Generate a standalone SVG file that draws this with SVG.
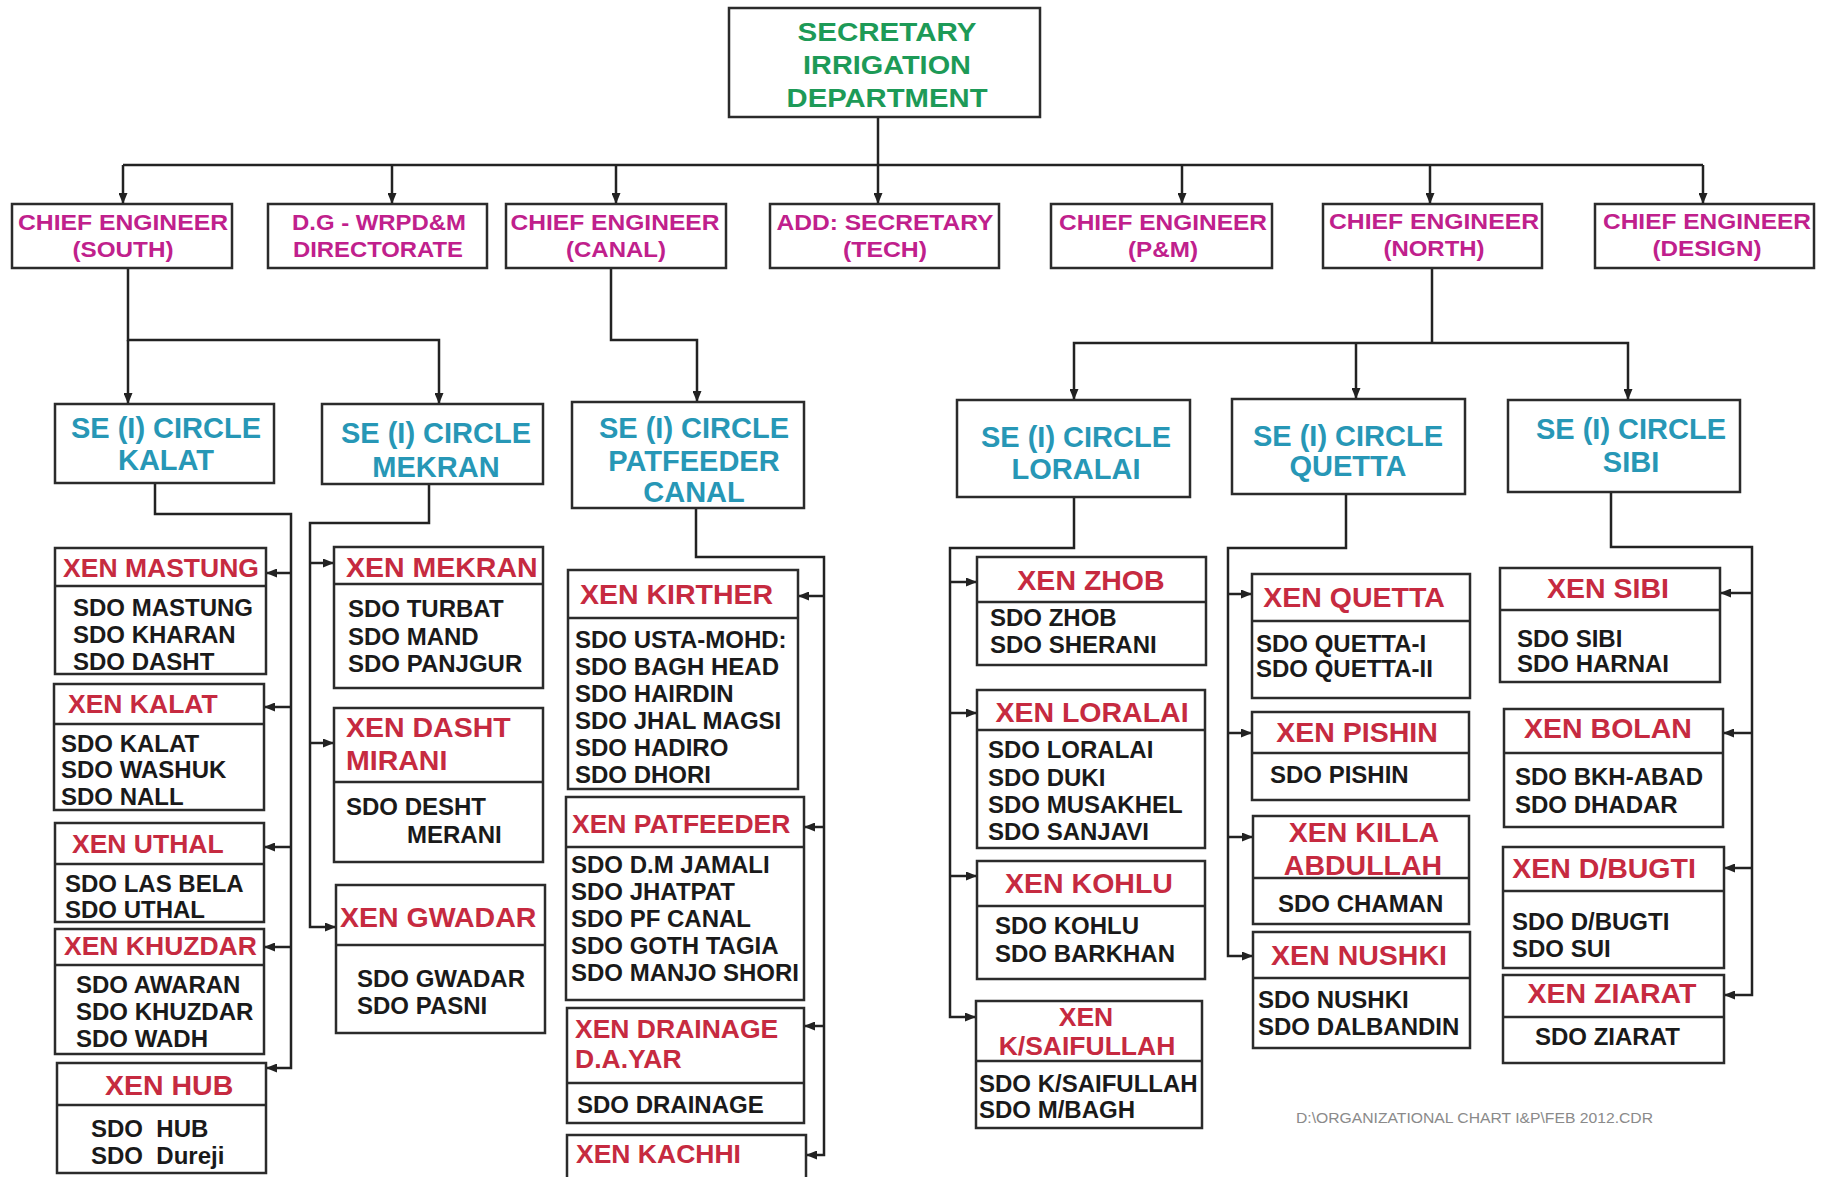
<svg xmlns="http://www.w3.org/2000/svg" width="1828" height="1177" viewBox="0 0 1828 1177">
<style>
.bx{fill:#fff;stroke:#2b2b2b;stroke-width:2.5}
.dv{stroke:#2b2b2b;stroke-width:2.5}
.c{fill:none;stroke:#222;stroke-width:2.5}
.ca{fill:none;stroke:#222;stroke-width:2.5;marker-end:url(#ar)}
text{font-family:"Liberation Sans",Arial,sans-serif;font-weight:bold}
.sec{font-size:26px;fill:#1d9a57;text-anchor:middle}
.ce{font-size:22px;fill:#c0208c;text-anchor:middle}
.se{font-size:29px;fill:#2797b6;text-anchor:middle}
.xh{font-size:28.5px;fill:#c62a40}
.xs{font-size:26.5px;fill:#c62a40}
.m{text-anchor:middle}
.sdo{font-size:24px;fill:#1a1a1a}
.ft{font-size:14px;font-weight:normal;fill:#8a8a8a}
</style>
<defs>
<marker id="ar" markerUnits="userSpaceOnUse" markerWidth="11" markerHeight="9" refX="11" refY="4.5" orient="auto">
<path d="M0,0 L11,4.5 L0,9 z" fill="#222"/>
</marker>
</defs>
<rect width="1828" height="1177" fill="#fff"/>

<g id="connectors">
<path class="ca" d="M878,117 V204"/>
<path class="c" d="M123,165 H1703"/>
<path class="ca" d="M123,165 V204"/>
<path class="ca" d="M392,165 V204"/>
<path class="ca" d="M616,165 V204"/>
<path class="ca" d="M1182,165 V204"/>
<path class="ca" d="M1430,165 V204"/>
<path class="ca" d="M1703,165 V204"/>
<path class="ca" d="M128,268 V340 H439 V404"/>
<path class="ca" d="M128,340 V404"/>
<path class="ca" d="M611,268 V340 H697 V402"/>
<path class="c" d="M1432,268 V343"/>
<path class="ca" d="M1432,343 H1074 V400"/>
<path class="ca" d="M1432,343 H1628 V400"/>
<path class="ca" d="M1356,343 V399"/>
<path class="ca" d="M155,483 V514 H291 V1068 H266"/>
<path class="ca" d="M291,573 H266"/>
<path class="ca" d="M291,707 H264"/>
<path class="ca" d="M291,847 H264"/>
<path class="ca" d="M291,947 H264"/>
<path class="ca" d="M429,484 V523 H310 V927 H336"/>
<path class="ca" d="M310,563 H334"/>
<path class="ca" d="M310,743 H334"/>
<path class="ca" d="M696,508 V557 H824 V1155 H806"/>
<path class="ca" d="M824,596 H798"/>
<path class="ca" d="M824,827 H804"/>
<path class="ca" d="M824,1026 H804"/>
<path class="ca" d="M1074,497 V548 H950 V1017 H976"/>
<path class="ca" d="M950,582 H977"/>
<path class="ca" d="M950,713 H977"/>
<path class="ca" d="M950,876 H977"/>
<path class="ca" d="M1346,494 V548 H1228 V956 H1253"/>
<path class="ca" d="M1228,594 H1252"/>
<path class="ca" d="M1228,733 H1252"/>
<path class="ca" d="M1228,837 H1253"/>
<path class="ca" d="M1611,492 V547 H1752 V995 H1724"/>
<path class="ca" d="M1752,593 H1720"/>
<path class="ca" d="M1752,733 H1723"/>
<path class="ca" d="M1752,868 H1724"/>
</g>

<g id="secretary">
<rect class="bx" x="729" y="8" width="311" height="109"/>
<text class="sec" x="887" y="41" textLength="179" lengthAdjust="spacingAndGlyphs">SECRETARY</text>
<text class="sec" x="887" y="74" textLength="168" lengthAdjust="spacingAndGlyphs">IRRIGATION</text>
<text class="sec" x="887" y="107" textLength="201" lengthAdjust="spacingAndGlyphs">DEPARTMENT</text>
</g>

<g id="ce-south">
<rect class="bx" x="12" y="204" width="220" height="64"/>
<text class="ce" x="123" y="230" textLength="210" lengthAdjust="spacingAndGlyphs">CHIEF ENGINEER</text>
<text class="ce" x="123" y="257" textLength="101" lengthAdjust="spacingAndGlyphs">(SOUTH)</text>
</g>
<g id="dg-wrpdm">
<rect class="bx" x="268" y="204" width="219" height="64"/>
<text class="ce" x="379" y="230" textLength="174" lengthAdjust="spacingAndGlyphs">D.G - WRPD&amp;M</text>
<text class="ce" x="378" y="257" textLength="170" lengthAdjust="spacingAndGlyphs">DIRECTORATE</text>
</g>
<g id="ce-canal">
<rect class="bx" x="506" y="204" width="220" height="64"/>
<text class="ce" x="615" y="230" textLength="209" lengthAdjust="spacingAndGlyphs">CHIEF ENGINEER</text>
<text class="ce" x="616" y="257" textLength="100" lengthAdjust="spacingAndGlyphs">(CANAL)</text>
</g>
<g id="add-secretary">
<rect class="bx" x="770" y="204" width="229" height="64"/>
<text class="ce" x="885" y="230" textLength="217" lengthAdjust="spacingAndGlyphs">ADD: SECRETARY</text>
<text class="ce" x="885" y="257" textLength="84" lengthAdjust="spacingAndGlyphs">(TECH)</text>
</g>
<g id="ce-pm">
<rect class="bx" x="1051" y="204" width="221" height="64"/>
<text class="ce" x="1163" y="230" textLength="208" lengthAdjust="spacingAndGlyphs">CHIEF ENGINEER</text>
<text class="ce" x="1163" y="257" textLength="70" lengthAdjust="spacingAndGlyphs">(P&amp;M)</text>
</g>
<g id="ce-north">
<rect class="bx" x="1323" y="204" width="219" height="64"/>
<text class="ce" x="1434" y="229" textLength="210" lengthAdjust="spacingAndGlyphs">CHIEF ENGINEER</text>
<text class="ce" x="1434" y="256" textLength="101" lengthAdjust="spacingAndGlyphs">(NORTH)</text>
</g>
<g id="ce-design">
<rect class="bx" x="1595" y="204" width="219" height="64"/>
<text class="ce" x="1707" y="229" textLength="208" lengthAdjust="spacingAndGlyphs">CHIEF ENGINEER</text>
<text class="ce" x="1707" y="256" textLength="109" lengthAdjust="spacingAndGlyphs">(DESIGN)</text>
</g>

<g id="se-kalat">
<rect class="bx" x="55" y="404" width="219" height="79"/>
<text class="se" x="166" y="438">SE (I) CIRCLE</text>
<text class="se" x="166" y="470">KALAT</text>
</g>
<g id="se-mekran">
<rect class="bx" x="322" y="404" width="221" height="80"/>
<text class="se" x="436" y="443">SE (I) CIRCLE</text>
<text class="se" x="436" y="477">MEKRAN</text>
</g>
<g id="se-patfeeder">
<rect class="bx" x="572" y="402" width="232" height="106"/>
<text class="se" x="694" y="438">SE (I) CIRCLE</text>
<text class="se" x="694" y="471">PATFEEDER</text>
<text class="se" x="694" y="502">CANAL</text>
</g>
<g id="se-loralai">
<rect class="bx" x="957" y="400" width="233" height="97"/>
<text class="se" x="1076" y="447">SE (I) CIRCLE</text>
<text class="se" x="1076" y="479">LORALAI</text>
</g>
<g id="se-quetta">
<rect class="bx" x="1232" y="399" width="233" height="95"/>
<text class="se" x="1348" y="446">SE (I) CIRCLE</text>
<text class="se" x="1348" y="476">QUETTA</text>
</g>
<g id="se-sibi">
<rect class="bx" x="1508" y="400" width="232" height="92"/>
<text class="se" x="1631" y="439">SE (I) CIRCLE</text>
<text class="se" x="1631" y="472">SIBI</text>
</g>

<g id="xen-mastung">
<rect class="bx" x="55" y="548" width="211" height="126"/>
<line class="dv" x1="55" y1="586" x2="266" y2="586"/>
<text class="xs m" x="161" y="577">XEN MASTUNG</text>
<text class="sdo" x="73" y="616">SDO MASTUNG</text>
<text class="sdo" x="73" y="643">SDO KHARAN</text>
<text class="sdo" x="73" y="670">SDO DASHT</text>
</g>
<g id="xen-kalat">
<rect class="bx" x="54" y="684" width="210" height="126"/>
<line class="dv" x1="54" y1="724" x2="264" y2="724"/>
<text class="xs" x="68" y="713">XEN KALAT</text>
<text class="sdo" x="61" y="752">SDO KALAT</text>
<text class="sdo" x="61" y="778">SDO WASHUK</text>
<text class="sdo" x="61" y="805">SDO NALL</text>
</g>
<g id="xen-uthal">
<rect class="bx" x="55" y="823" width="209" height="99"/>
<line class="dv" x1="55" y1="864" x2="264" y2="864"/>
<text class="xs" x="72" y="853">XEN UTHAL</text>
<text class="sdo" x="65" y="892">SDO LAS BELA</text>
<text class="sdo" x="65" y="918">SDO UTHAL</text>
</g>
<g id="xen-khuzdar">
<rect class="bx" x="55" y="929" width="209" height="125"/>
<line class="dv" x1="55" y1="965" x2="264" y2="965"/>
<text class="xs" x="64" y="955">XEN KHUZDAR</text>
<text class="sdo" x="76" y="993">SDO AWARAN</text>
<text class="sdo" x="76" y="1020">SDO KHUZDAR</text>
<text class="sdo" x="76" y="1047">SDO WADH</text>
</g>
<g id="xen-hub">
<rect class="bx" x="57" y="1063" width="209" height="110"/>
<line class="dv" x1="57" y1="1105" x2="266" y2="1105"/>
<text class="xh" x="105" y="1095">XEN HUB</text>
<text class="sdo" x="91" y="1137">SDO&#160; HUB</text>
<text class="sdo" x="91" y="1164">SDO&#160; Dureji</text>
</g>

<g id="xen-mekran">
<rect class="bx" x="334" y="547" width="209" height="141"/>
<line class="dv" x1="334" y1="584" x2="543" y2="584"/>
<text class="xh" x="346" y="577">XEN MEKRAN</text>
<text class="sdo" x="348" y="617">SDO TURBAT</text>
<text class="sdo" x="348" y="645">SDO MAND</text>
<text class="sdo" x="348" y="672">SDO PANJGUR</text>
</g>
<g id="xen-dasht-mirani">
<rect class="bx" x="334" y="708" width="209" height="154"/>
<line class="dv" x1="334" y1="782" x2="543" y2="782"/>
<text class="xh" x="346" y="737">XEN DASHT</text>
<text class="xh" x="346" y="770">MIRANI</text>
<text class="sdo" x="346" y="815">SDO DESHT</text>
<text class="sdo" x="407" y="843">MERANI</text>
</g>
<g id="xen-gwadar">
<rect class="bx" x="336" y="885" width="209" height="148"/>
<line class="dv" x1="336" y1="945" x2="545" y2="945"/>
<text class="xh" x="340" y="927">XEN GWADAR</text>
<text class="sdo" x="357" y="987">SDO GWADAR</text>
<text class="sdo" x="357" y="1014">SDO PASNI</text>
</g>

<g id="xen-kirther">
<rect class="bx" x="568" y="570" width="230" height="219"/>
<line class="dv" x1="568" y1="618" x2="798" y2="618"/>
<text class="xh" x="580" y="604">XEN KIRTHER</text>
<text class="sdo" x="575" y="648">SDO USTA-MOHD:</text>
<text class="sdo" x="575" y="675">SDO BAGH HEAD</text>
<text class="sdo" x="575" y="702">SDO HAIRDIN</text>
<text class="sdo" x="575" y="729">SDO JHAL MAGSI</text>
<text class="sdo" x="575" y="756">SDO HADIRO</text>
<text class="sdo" x="575" y="783">SDO DHORI</text>
</g>
<g id="xen-patfeeder">
<rect class="bx" x="566" y="797" width="238" height="203"/>
<line class="dv" x1="566" y1="847" x2="804" y2="847"/>
<text class="xs" x="572" y="833">XEN PATFEEDER</text>
<text class="sdo" x="571" y="873">SDO D.M JAMALI</text>
<text class="sdo" x="571" y="900">SDO JHATPAT</text>
<text class="sdo" x="571" y="927">SDO PF CANAL</text>
<text class="sdo" x="571" y="954">SDO GOTH TAGIA</text>
<text class="sdo" x="571" y="981">SDO MANJO SHORI</text>
</g>
<g id="xen-drainage">
<rect class="bx" x="567" y="1008" width="237" height="115"/>
<line class="dv" x1="567" y1="1083" x2="804" y2="1083"/>
<text class="xs" x="575" y="1038">XEN DRAINAGE</text>
<text class="xs" x="575" y="1068">D.A.YAR</text>
<text class="sdo" x="577" y="1113">SDO DRAINAGE</text>
</g>
<g id="xen-kachhi">
<rect class="bx" x="567" y="1135" width="239" height="60"/>
<text class="xs" x="576" y="1163">XEN KACHHI</text>
</g>

<g id="xen-zhob">
<rect class="bx" x="977" y="557" width="229" height="108"/>
<line class="dv" x1="977" y1="602" x2="1206" y2="602"/>
<text class="xh m" x="1091" y="590">XEN ZHOB</text>
<text class="sdo" x="990" y="626">SDO ZHOB</text>
<text class="sdo" x="990" y="653">SDO SHERANI</text>
</g>
<g id="xen-loralai">
<rect class="bx" x="977" y="690" width="228" height="158"/>
<line class="dv" x1="977" y1="730" x2="1205" y2="730"/>
<text class="xh m" x="1092" y="722">XEN LORALAI</text>
<text class="sdo" x="988" y="758">SDO LORALAI</text>
<text class="sdo" x="988" y="786">SDO DUKI</text>
<text class="sdo" x="988" y="813">SDO MUSAKHEL</text>
<text class="sdo" x="988" y="840">SDO SANJAVI</text>
</g>
<g id="xen-kohlu">
<rect class="bx" x="977" y="861" width="228" height="118"/>
<line class="dv" x1="977" y1="906" x2="1205" y2="906"/>
<text class="xh m" x="1089" y="893">XEN KOHLU</text>
<text class="sdo" x="995" y="934">SDO KOHLU</text>
<text class="sdo" x="995" y="962">SDO BARKHAN</text>
</g>
<g id="xen-ksaifullah">
<rect class="bx" x="976" y="1001" width="226" height="127"/>
<line class="dv" x1="976" y1="1061" x2="1202" y2="1061"/>
<text class="xs m" x="1086" y="1026">XEN</text>
<text class="xs m" x="1087" y="1055">K/SAIFULLAH</text>
<text class="sdo" x="979" y="1092">SDO K/SAIFULLAH</text>
<text class="sdo" x="979" y="1118">SDO M/BAGH</text>
</g>

<g id="xen-quetta">
<rect class="bx" x="1252" y="574" width="218" height="124"/>
<line class="dv" x1="1252" y1="621" x2="1470" y2="621"/>
<text class="xh m" x="1354" y="607">XEN QUETTA</text>
<text class="sdo" x="1256" y="652">SDO QUETTA-I</text>
<text class="sdo" x="1256" y="677">SDO QUETTA-II</text>
</g>
<g id="xen-pishin">
<rect class="bx" x="1252" y="712" width="217" height="88"/>
<line class="dv" x1="1252" y1="753" x2="1469" y2="753"/>
<text class="xh m" x="1357" y="742">XEN PISHIN</text>
<text class="sdo" x="1270" y="783">SDO PISHIN</text>
</g>
<g id="xen-killa-abdullah">
<rect class="bx" x="1253" y="816" width="216" height="108"/>
<line class="dv" x1="1253" y1="878" x2="1469" y2="878"/>
<text class="xh m" x="1364" y="842">XEN KILLA</text>
<text class="xh m" x="1363" y="875">ABDULLAH</text>
<text class="sdo" x="1278" y="912">SDO CHAMAN</text>
</g>
<g id="xen-nushki">
<rect class="bx" x="1253" y="932" width="217" height="116"/>
<line class="dv" x1="1253" y1="978" x2="1470" y2="978"/>
<text class="xh m" x="1359" y="965">XEN NUSHKI</text>
<text class="sdo" x="1258" y="1008">SDO NUSHKI</text>
<text class="sdo" x="1258" y="1035">SDO DALBANDIN</text>
</g>

<g id="xen-sibi">
<rect class="bx" x="1500" y="568" width="220" height="114"/>
<line class="dv" x1="1500" y1="610" x2="1720" y2="610"/>
<text class="xh m" x="1608" y="598">XEN SIBI</text>
<text class="sdo" x="1517" y="647">SDO SIBI</text>
<text class="sdo" x="1517" y="672">SDO HARNAI</text>
</g>
<g id="xen-bolan">
<rect class="bx" x="1504" y="709" width="219" height="118"/>
<line class="dv" x1="1504" y1="753" x2="1723" y2="753"/>
<text class="xh m" x="1608" y="738">XEN BOLAN</text>
<text class="sdo" x="1515" y="785">SDO BKH-ABAD</text>
<text class="sdo" x="1515" y="813">SDO DHADAR</text>
</g>
<g id="xen-dbugti">
<rect class="bx" x="1503" y="847" width="221" height="121"/>
<line class="dv" x1="1503" y1="891" x2="1724" y2="891"/>
<text class="xh m" x="1604" y="878">XEN D/BUGTI</text>
<text class="sdo" x="1512" y="930">SDO D/BUGTI</text>
<text class="sdo" x="1512" y="957">SDO SUI</text>
</g>
<g id="xen-ziarat">
<rect class="bx" x="1503" y="975" width="221" height="88"/>
<line class="dv" x1="1503" y1="1017" x2="1724" y2="1017"/>
<text class="xh m" x="1612" y="1003">XEN ZIARAT</text>
<text class="sdo" x="1535" y="1045">SDO ZIARAT</text>
</g>

<text class="ft" x="1296" y="1123" textLength="357" lengthAdjust="spacingAndGlyphs">D:\ORGANIZATIONAL CHART I&amp;P\FEB 2012.CDR</text>
</svg>
